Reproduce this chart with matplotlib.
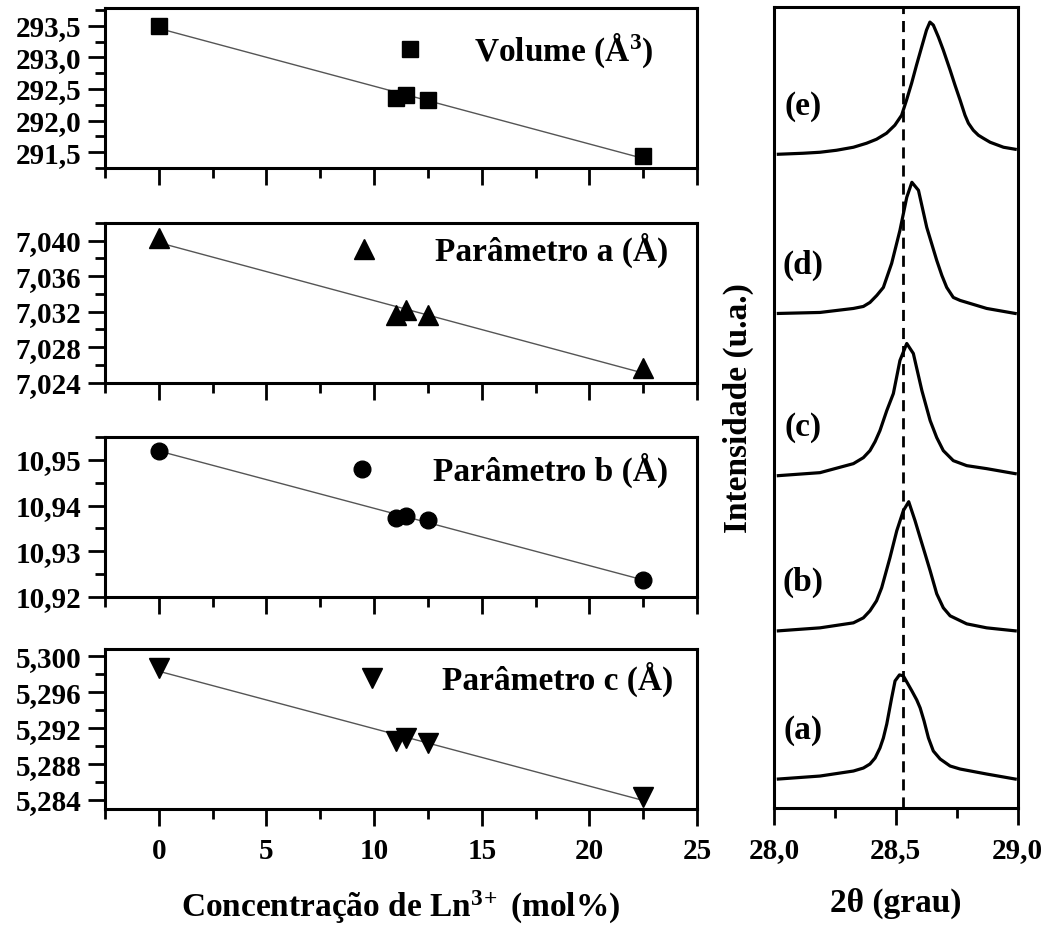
import numpy as np
import matplotlib
matplotlib.use('Agg')
import matplotlib.pyplot as plt
from matplotlib.ticker import MultipleLocator, FuncFormatter

plt.rcParams['font.family'] = 'Liberation Serif'
plt.rcParams['font.weight'] = 'bold'
plt.rcParams['axes.labelweight'] = 'bold'
plt.rcParams['mathtext.fontset'] = 'custom'
plt.rcParams['mathtext.rm'] = 'Liberation Serif:bold'
plt.rcParams['mathtext.bf'] = 'Liberation Serif:bold'
plt.rcParams['mathtext.default'] = 'regular'

# lattice parameters vs Ln3+ concentration
conc = [0, 11, 11.5, 12.5, 22.5]
volume = [293.50, 292.36, 292.40, 292.33, 291.44]
param_a = [7.0403, 7.0316, 7.0322, 7.0316, 7.0256]
param_b = [10.952, 10.9373, 10.9378, 10.9368, 10.9237]
param_c = [5.2987, 5.2906, 5.2909, 5.2904, 5.2843]

# XRD peak (2theta) for samples a-e, intensities stacked (arb. units)
tt_a = [28.018, 28.189, 28.326, 28.367, 28.394, 28.415, 28.435, 28.449, 28.463, 28.483, 28.497, 28.515,
        28.531, 28.566, 28.586, 28.600, 28.616, 28.634, 28.654, 28.682, 28.723, 28.764, 28.873, 28.990]
int_a = [29, 32, 37, 40, 44, 50, 60, 70, 84, 110, 127, 133, 132, 117, 108, 100, 87, 70, 57, 49, 42, 39, 34, 29]
tt_b = [28.018, 28.189, 28.326, 28.367, 28.394, 28.421, 28.442, 28.476, 28.504, 28.531, 28.553, 28.579,
        28.600, 28.620, 28.641, 28.668, 28.695, 28.723, 28.791, 28.873, 28.990]
int_b = [177, 180, 185, 190, 197, 207, 220, 250, 277, 297, 306, 287, 270, 254, 237, 214, 200, 192, 184, 180, 177]
tt_c = [28.018, 28.189, 28.326, 28.367, 28.394, 28.415, 28.435, 28.463, 28.490, 28.517, 28.545, 28.572,
        28.607, 28.641, 28.668, 28.695, 28.736, 28.791, 28.873, 28.990]
int_c = [332, 335, 344, 350, 357, 366, 377, 397, 414, 447, 464, 454, 417, 387, 370, 357, 347, 342, 339, 334]
tt_d = [28.018, 28.189, 28.326, 28.367, 28.394, 28.422, 28.449, 28.483, 28.517, 28.545, 28.566, 28.593,
        28.627, 28.668, 28.689, 28.709, 28.736, 28.764, 28.873, 28.990]
int_d = [494, 495, 499, 501, 505, 512, 520, 544, 577, 610, 625, 617, 580, 547, 532, 520, 510, 507, 499, 494]
tt_e = [28.018, 28.120, 28.189, 28.257, 28.326, 28.380, 28.421, 28.462, 28.496, 28.524, 28.544, 28.565,
        28.585, 28.606, 28.626, 28.640, 28.654, 28.675, 28.695, 28.723, 28.743, 28.764, 28.784, 28.798,
        28.818, 28.839, 28.859, 28.887, 28.942, 28.990]
int_e = [653, 654, 655, 657, 660, 664, 668, 674, 682, 692, 707, 724, 742, 760, 777, 785, 782, 770, 757, 737,
         722, 707, 692, 684, 677, 672, 669, 665, 660, 658]
sample_labels = ['(a)', '(b)', '(c)', '(d)', '(e)']
ref_peak = 28.53

fig = plt.figure(figsize=(10.49, 9.30), dpi=100)

panels = [
    (volume, 'Volume (Å$^{3}$)', 's', 11, (291.25, 293.78), 0.5, 1, (0.926, 0.733), 1.42),
    (param_a, 'Parâmetro a (Å)', '^', 15, (7.024, 7.042), 0.004, 3, (0.951, 0.829), 1.62),
    (param_b, 'Parâmetro b (Å)', 'o', 12, (10.92, 10.955), 0.01, 2, (0.951, 0.789), 1.62),
    (param_c, 'Parâmetro c (Å)', 'v', 15, (5.283, 5.3008), 0.004, 3, (0.959, 0.811), 1.6),
]
bottoms = [0.8194, 0.5885, 0.3581, 0.1301]

for i, (vals, lab, mk, ms, ylim, step, dec, anchor, pad) in enumerate(panels):
    ax = fig.add_axes([0.1001, bottoms[i], 0.5644, 0.172])
    k, b = np.polyfit(conc, vals, 1)
    xs = np.array([conc[0], conc[-1]])
    ax.plot(xs, k * xs + b, color='#555555', lw=1.0, zorder=2)
    ax.plot(conc, vals, ls='none', marker=mk, ms=ms, color='black', label=lab, zorder=3)
    ax.set_xlim(-2.5, 25)
    ax.set_ylim(*ylim)
    ax.xaxis.set_major_locator(MultipleLocator(5))
    ax.xaxis.set_minor_locator(MultipleLocator(2.5))
    ax.yaxis.set_major_locator(MultipleLocator(step))
    ax.yaxis.set_minor_locator(MultipleLocator(step / 2))
    ax.yaxis.set_major_formatter(FuncFormatter(lambda v, p, d=dec: f"{v:.{d}f}".replace('.', ',')))
    ax.tick_params(which='major', direction='out', length=12, width=2, labelsize=21, pad=5)
    ax.tick_params(which='minor', direction='out', length=7, width=2)
    ax.tick_params(axis='x', which='major', pad=9)
    for s in ax.spines.values():
        s.set_linewidth(2.2)
    if i < 3:
        ax.tick_params(axis='x', labelbottom=False)
    else:
        ax.set_xlabel('Concentração de Ln$^{3\\!+}$ (mol%)', fontsize=24)
        ax.xaxis.set_label_coords(0.5, -0.5)
    ax.legend(loc='center right', bbox_to_anchor=anchor, frameon=False, fontsize=24,
              handlelength=1.0, handletextpad=pad, borderpad=0, borderaxespad=0, numpoints=1)

# XRD panel
axr = fig.add_axes([0.7378, 0.1311, 0.2323, 0.8613])
curves = [(tt_a, int_a), (tt_b, int_b), (tt_c, int_c), (tt_d, int_d), (tt_e, int_e)]
for (tt, it), lab in zip(curves, sample_labels):
    axr.plot(tt, it, color='black', lw=2.3, solid_joinstyle='round')
    axr.text(28.12, it[0] + 48, lab, fontsize=24, ha='center', va='center')
axr.axvline(ref_peak, color='black', lw=2, ls=(0, (4, 2.5)))
axr.set_xlim(28, 29)
axr.set_ylim(0, 800)
axr.set_yticks([])
axr.xaxis.set_major_locator(MultipleLocator(0.5))
axr.xaxis.set_minor_locator(MultipleLocator(0.25))
axr.xaxis.set_major_formatter(FuncFormatter(lambda v, p: f"{v:.1f}".replace('.', ',')))
axr.tick_params(which='major', direction='out', length=12, width=2, labelsize=21, pad=9)
axr.tick_params(which='minor', direction='out', length=7, width=2)
for s in axr.spines.values():
    s.set_linewidth(2.2)
axr.set_xlabel('2θ (grau)', fontsize=24)
axr.xaxis.set_label_coords(0.5, -0.1)
axr.set_ylabel('Intensidade (u.a.)', fontsize=24)
axr.yaxis.set_label_coords(-0.08, 0.5)

fig.savefig('out.png', dpi=100)
